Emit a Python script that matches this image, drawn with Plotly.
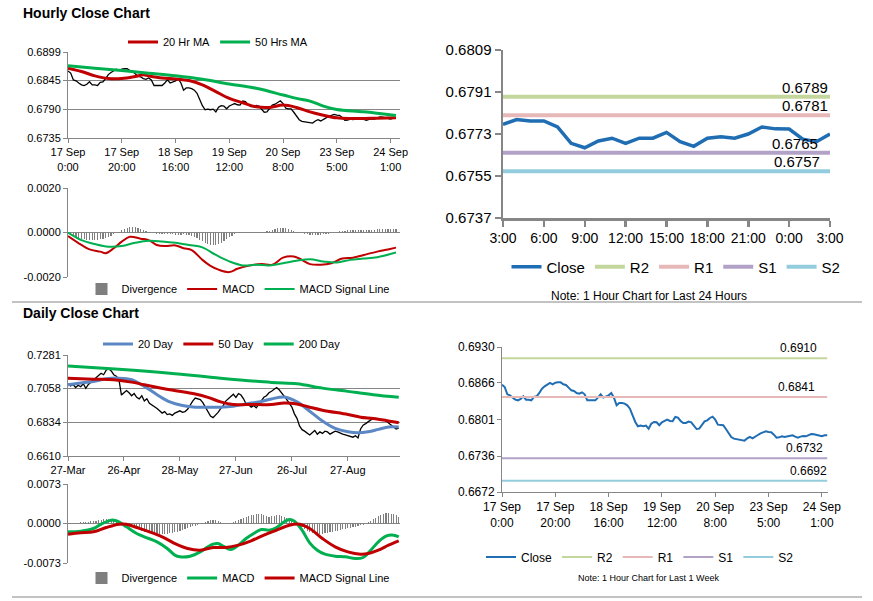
import plotly.graph_objects as go

W, H = 873, 601
FONT = "Liberation Sans, Arial, sans-serif"
GREY = "#868686"

# ---- hourly data: 17 Sep 0:00 -> 24 Sep 2:00 (one point per trading hour)
hourly_close = [
    0.68630, 0.68588, 0.68458, 0.68440, 0.68399, 0.68363, 0.68351, 0.68375, 0.68422, 0.68363,
    0.68363, 0.68351, 0.68411, 0.68422, 0.68482, 0.68559, 0.68600, 0.68624, 0.68660, 0.68636,
    0.68665, 0.68671, 0.68671, 0.68636, 0.68624, 0.68577, 0.68529, 0.68517, 0.68482, 0.68470,
    0.68494, 0.68458, 0.68351, 0.68351, 0.68351, 0.68351, 0.68399, 0.68458, 0.68399, 0.68422,
    0.68440, 0.68482, 0.68399, 0.68262, 0.68304, 0.68304, 0.68292, 0.68262, 0.68203, 0.68084,
    0.67966, 0.67889, 0.67901, 0.67889, 0.67901, 0.67847, 0.67936, 0.67966, 0.67960, 0.67907,
    0.67960, 0.67984, 0.68007, 0.67984, 0.67978, 0.68055, 0.68043, 0.67984, 0.67948, 0.67948,
    0.67972, 0.67960, 0.67889, 0.67841, 0.67847, 0.67907, 0.67978, 0.67995, 0.68037, 0.68061,
    0.68007, 0.67918, 0.67907, 0.67907, 0.67841, 0.67758, 0.67699, 0.67669, 0.67657, 0.67651,
    0.67640, 0.67634, 0.67675, 0.67699, 0.67675, 0.67711, 0.67734, 0.67764, 0.67788, 0.67800,
    0.67788, 0.67782, 0.67740, 0.67687, 0.67693, 0.67711, 0.67699, 0.67705, 0.67723, 0.67729,
    0.67705, 0.67687, 0.67705, 0.67717, 0.67711, 0.67729, 0.67752, 0.67746, 0.67734, 0.67723,
    0.67711, 0.67729, 0.67729,
]
hourly_ticks = [0, 20, 40, 60, 80, 100, 120]
hourly_ticktext = ["17 Sep<br>0:00", "17 Sep<br>20:00", "18 Sep<br>16:00", "19 Sep<br>12:00",
                   "20 Sep<br>8:00", "23 Sep<br>5:00", "24 Sep<br>1:00"]

ma20h_x = [0, 5, 10, 15, 20, 25, 28, 30, 35, 40, 45, 50, 55, 60, 65, 70, 75, 80, 85, 90, 95, 100, 105, 110, 115, 122]
ma20h = [0.68682, 0.68618, 0.68535, 0.68484, 0.68484, 0.68522, 0.68554, 0.68535, 0.68496, 0.68477,
         0.68445, 0.68362, 0.68234, 0.68105, 0.68022, 0.67945, 0.67932, 0.67977, 0.67932, 0.67849,
         0.67785, 0.67734, 0.67721, 0.67721, 0.67727, 0.67734]
ma50h_x = [0, 10, 20, 30, 40, 50, 60, 70, 80, 85, 90, 95, 100, 110, 122]
ma50h = [0.68727, 0.68682, 0.68637, 0.68586, 0.68535, 0.68470, 0.68380, 0.68298, 0.68170, 0.68105,
         0.68054, 0.67958, 0.67894, 0.67849, 0.67778]

macd_h_x = [0, 5, 8, 12, 14, 17, 20, 23, 27, 30, 33, 36, 40, 43, 46, 50, 53, 56, 60, 63, 67, 72, 76,
            80, 84, 86, 90, 94, 98, 102, 106, 110, 115, 119, 122]
macd_h = [-0.00016, -0.00056, -0.00076, -0.00086, -0.00093, -0.00071, -0.00041, -0.00019, -0.00028,
          -0.00034, -0.00056, -0.00061, -0.00058, -0.00071, -0.00079, -0.00123, -0.00150, -0.00167,
          -0.00178, -0.00163, -0.00150, -0.00142, -0.00145, -0.00113, -0.00108, -0.00117, -0.00142,
          -0.00145, -0.00138, -0.00117, -0.00113, -0.00101, -0.00086, -0.00076, -0.00068]
sig_h_x = [0, 5, 10, 15, 20, 25, 30, 35, 40, 45, 50, 55, 60, 65, 70, 75, 80, 85, 90, 95, 100, 105, 110, 115, 122]
sig_h = [0.0, -0.00034, -0.00052, -0.00064, -0.00061, -0.00046, -0.00037, -0.00040, -0.00046, -0.00056,
         -0.00067, -0.00101, -0.00130, -0.00148, -0.00145, -0.00148, -0.00138, -0.00127, -0.00120,
         -0.00130, -0.00135, -0.00123, -0.00117, -0.00111, -0.00090]
div_h = [
    0.0, -0.00008, -0.00014, -0.0002, -0.00024, -0.00027, -0.0003, -0.00032, -0.00033, -0.00034,
    -0.00034, -0.00033, -0.00031, -0.00028, -0.00025, -0.0002, -0.00014, -0.00008, -0.00002,
    0.00004, 0.0001, 0.00015, 0.0002, 0.00024, 0.00026, 0.00025, 0.00022, 0.00017, 0.00012, 0.00007, 0.00003,
    -0.00002, -0.00004, -0.00006, -0.00007, -0.00007, -0.00006, -0.00005, -0.00006, -0.00008, -0.00009,
    -0.0001, -0.00009, -0.00008, -0.0001, -0.00013, -0.00016, -0.0002,
    -0.00026, -0.00033, -0.0004, -0.00046, -0.00051, -0.00055, -0.00057, -0.00056, -0.00052, -0.00046,
    -0.00038, -0.0003, -0.00022, -0.00015, -0.00008,
    -0.00003, 0.00001, 0.00002, 0.00001, 0.00001, 0.00002, 0.00002, 0.00001, 0.00001, 0.00002, 0.00004,
    0.00006, 0.00009,
    0.00013, 0.00016, 0.00019, 0.0002, 0.0002, 0.00019, 0.00016, 0.00012, 0.00008, 0.00004, 0.00001,
    -0.00003, -0.00006, -0.00008, -0.0001, -0.00011, -0.00011, -0.0001, -0.00009, -0.00008, -0.00007,
    -0.00005, -0.00003, -0.00001,
    0.00002, 0.00005, 0.00007, 0.00009, 0.0001, 0.0001, 0.00011, 0.0001, 0.0001, 0.00011, 0.00012,
    0.00012, 0.00011, 0.00012, 0.00013, 0.00014, 0.00015, 0.00016, 0.00016, 0.00017, 0.00017, 0.00016, 0.00016,
]

# ---- last 24 hours
last24_close = [0.67771, 0.67792, 0.67786, 0.67786, 0.67760, 0.67690, 0.67671, 0.67700, 0.67712,
                0.67690, 0.67712, 0.67712, 0.67737, 0.67697, 0.67677, 0.67712, 0.67718, 0.67712,
                0.67730, 0.67760, 0.67752, 0.67751, 0.67708, 0.67697, 0.67730]
last24_ticks = [0, 3, 6, 9, 12, 15, 18, 21, 24]
last24_ticktext = ["3:00", "6:00", "9:00", "12:00", "15:00", "18:00", "21:00", "0:00", "3:00"]

level_names = ["R2", "R1", "S1", "S2"]
levels_24h = [0.6789, 0.6781, 0.6765, 0.6757]
levels_week = [0.6910, 0.6841, 0.6732, 0.6692]

# ---- daily data: 27-Mar -> 24-Sep
daily_close = [
    0.7090, 0.7075, 0.7085, 0.7065, 0.7080, 0.7070, 0.7090, 0.7060, 0.7085, 0.7100,
    0.7110, 0.7130, 0.7145, 0.7160, 0.7150, 0.7180, 0.7190, 0.7175, 0.7150, 0.7140,
    0.7120, 0.7015, 0.7030, 0.7045, 0.7030, 0.7010, 0.7025, 0.7000, 0.6990, 0.7010,
    0.6975, 0.6990, 0.6960, 0.6950, 0.6935, 0.6925, 0.6910, 0.6895, 0.6905, 0.6885,
    0.6890, 0.6880, 0.6895, 0.6905, 0.6910, 0.6900, 0.6905, 0.6920, 0.6950, 0.6975,
    0.6995, 0.6990, 0.6985, 0.6965, 0.6935, 0.6895, 0.6875, 0.6865, 0.6880, 0.6900,
    0.6925, 0.6945, 0.6975, 0.6990, 0.7005, 0.7020, 0.7000, 0.7025, 0.7015, 0.6990,
    0.6955, 0.6950, 0.6935, 0.6945, 0.6930, 0.6955, 0.6980, 0.7000, 0.7010, 0.7030,
    0.7040, 0.7055, 0.7065, 0.7050, 0.7030, 0.7010, 0.6985, 0.6960, 0.6935, 0.6890,
    0.6860, 0.6810, 0.6785, 0.6775, 0.6760, 0.6750, 0.6765, 0.6780, 0.6755, 0.6770,
    0.6760, 0.6775, 0.6770, 0.6755, 0.6765, 0.6775, 0.6770, 0.6760, 0.6755, 0.6750,
    0.6745, 0.6740, 0.6735, 0.6745, 0.6730, 0.6790, 0.6815, 0.6825, 0.6840, 0.6850,
    0.6855, 0.6860, 0.6855, 0.6850, 0.6850, 0.6845, 0.6830, 0.6815, 0.6800, 0.6790,
    0.6795,
]
daily_ticks = [0, 22, 44, 66, 88, 110]
daily_ticktext = ["27-Mar", "26-Apr", "28-May", "27-Jun", "26-Jul", "27-Aug"]

ma20d_x = [0, 5, 10, 15, 20, 25, 30, 35, 40, 45, 50, 55, 60, 65, 70, 75, 80, 85, 90, 95, 100, 105, 110, 114, 118, 122, 126, 130]
ma20d = [0.70834, 0.70944, 0.71054, 0.71229, 0.71273, 0.71163, 0.70724, 0.70175, 0.69692, 0.69450,
         0.69340, 0.69340, 0.69340, 0.69406, 0.69560, 0.69692, 0.69889, 0.70021, 0.69692, 0.69077,
         0.68418, 0.67935, 0.67715, 0.67650, 0.67715, 0.67869, 0.68023, 0.68023]
ma50d_x = [0, 10, 18, 25, 30, 40, 50, 55, 60, 65, 70, 75, 80, 85, 90, 95, 100, 110, 115, 120, 125, 130]
ma50d = [0.71273, 0.71207, 0.71163, 0.71009, 0.70834, 0.70504, 0.70219, 0.69999, 0.69692, 0.69516,
         0.69516, 0.69516, 0.69516, 0.69626, 0.69560, 0.69340, 0.69143, 0.68857, 0.68681, 0.68593,
         0.68462, 0.68308]
ma200d_x = [0, 20, 40, 60, 80, 90, 100, 110, 120, 130]
ma200d = [0.72085, 0.71866, 0.71602, 0.71273, 0.70987, 0.70900, 0.70610, 0.70394, 0.70175, 0.69999]

macd_d_x = [0, 5, 10, 13, 16, 18, 20, 23, 27, 30, 35, 39, 42, 44, 48, 52, 55, 57, 59, 61, 64, 67, 70,
            73, 76, 79, 82, 85, 87, 89, 92, 95, 98, 101, 105, 109, 113, 116, 119, 122, 125, 128, 130]
macd_d = [-0.00154, -0.00142, -0.00092, -0.00012, 0.00049, 0.00062, 0.00031, -0.00062, -0.00185,
          -0.00246, -0.00339, -0.00462, -0.00585, -0.00616, -0.00604, -0.00524, -0.00431, -0.00382,
          -0.00370, -0.00419, -0.00480, -0.00400, -0.00277, -0.00185, -0.00111, -0.00123, -0.00074,
          0.00031, 0.00074, 0.00043, -0.00123, -0.00357, -0.00493, -0.00567, -0.00604, -0.00616,
          -0.00647, -0.00628, -0.00493, -0.00339, -0.00234, -0.00216, -0.00246]
sig_d_x = [0, 5, 10, 15, 20, 23, 27, 32, 37, 42, 47, 52, 57, 62, 67, 72, 77, 82, 87, 91, 95, 100,
           105, 110, 115, 118, 122, 126, 130]
sig_d = [-0.00197, -0.00172, -0.00154, -0.00074, -0.00012, -0.00012, -0.00074, -0.00154, -0.00246,
         -0.00370, -0.00462, -0.00493, -0.00444, -0.00444, -0.00400, -0.00320, -0.00216, -0.00123,
         -0.00031, -0.00012, -0.00092, -0.00277, -0.00431, -0.00524, -0.00567, -0.00554, -0.00493,
         -0.00400, -0.00320]
div_d = [
    0.00005, 0.00008, 0.0001, 0.00012, 0.00015, 0.0002, 0.00025, 0.0003,
    0.00035, 0.0004, 0.00045, 0.0005, 0.0006, 0.0007, 0.0008, 0.00085, 0.0009, 0.0009, 0.00085,
    0.0007, 0.0005, 0.0003, 0.0001,
    -0.0002, -0.0004, -0.0006, -0.0008, -0.001, -0.0012, -0.0013, -0.0015, -0.0016, -0.0017, -0.0018,
    -0.0019, -0.0019, -0.002, -0.002, -0.0019, -0.0019, -0.0018, -0.0017, -0.0016, -0.0015, -0.0013,
    -0.0012, -0.001, -0.0009, -0.0007, -0.0005, -0.0004, -0.0002, -0.0001, 0.0001, 0.0002, 0.0004,
    0.0006, 0.0007, 0.0006, 0.0004, 0.0002, 0.0001, 0.00005, 0.00005, 0.0001, 0.0002,
    0.0004, 0.0006, 0.0008, 0.001, 0.0012, 0.0014, 0.0015, 0.0016, 0.0017, 0.0018, 0.0017, 0.0016,
    0.0014, 0.0012, 0.0013, 0.0014, 0.0015, 0.0015, 0.0014, 0.0012, 0.001, 0.0008, 0.0005, 0.0002, -0.0001,
    -0.0004, -0.0007, -0.001, -0.0013, -0.0015, -0.0017, -0.0018, -0.0019, -0.0019, -0.0019, -0.0018,
    -0.0017, -0.0016, -0.0015, -0.0014, -0.0013, -0.0012, -0.0011, -0.001, -0.0009, -0.0008, -0.0007,
    -0.0006, -0.0005, -0.0003, -0.0002, -0.0001,
    0.0002, 0.0005, 0.0008, 0.0011, 0.0014, 0.0016, 0.0018, 0.0019, 0.0019, 0.0018, 0.0017, 0.0015, 0.0012,
]


def xd(left, right):
    return [left / W, right / W]


def yd(top, bottom):
    return [1 - bottom / H, 1 - top / H]


def yfmt(vals):
    return ["%.4f" % v if v >= 0 else "-%.4f" % abs(v) for v in vals]


hx = list(range(len(hourly_close)))
dx = list(range(len(daily_close)))
lx = list(range(len(last24_close)))

RED, GREEN, BLUE = "#c00000", "#00b050", "#5b87c5"
CLOSE_BLUE = "#1f6db3"
level_colors = ["#c3d69b", "#e6b9b8", "#b3a2c7", "#93cddd"]

fig = go.Figure()

# panel 1: hourly close + moving averages
fig.add_trace(go.Scatter(x=hx, y=hourly_close, mode="lines", line=dict(color="black", width=1.3),
                         showlegend=False, xaxis="x", yaxis="y"))
fig.add_trace(go.Scatter(x=ma20h_x, y=ma20h, mode="lines", name="20 Hr MA", line=dict(color=RED, width=3),
                         line_shape="spline", xaxis="x", yaxis="y", legend="legend"))
fig.add_trace(go.Scatter(x=ma50h_x, y=ma50h, mode="lines", name="50 Hrs MA", line=dict(color=GREEN, width=3),
                         line_shape="spline", xaxis="x", yaxis="y", legend="legend"))

# panel 2: hourly MACD
fig.add_trace(go.Bar(x=hx, y=div_h, name="Divergence", marker=dict(color="#7f7f7f", line_width=0), width=0.45,
                     xaxis="x2", yaxis="y2", legend="legend2"))
fig.add_trace(go.Scatter(x=macd_h_x, y=macd_h, mode="lines", name="MACD", line=dict(color=RED, width=2),
                         line_shape="spline", xaxis="x2", yaxis="y2", legend="legend2"))
fig.add_trace(go.Scatter(x=sig_h_x, y=sig_h, mode="lines", name="MACD Signal Line", line=dict(color=GREEN, width=2),
                         line_shape="spline", xaxis="x2", yaxis="y2", legend="legend2"))

# panel 3: last 24 hours with pivot levels
fig.add_trace(go.Scatter(x=lx, y=last24_close, mode="lines", name="Close", line=dict(color=CLOSE_BLUE, width=3.5),
                         xaxis="x3", yaxis="y3", legend="legend3"))
for name, lev, col in zip(level_names, levels_24h, level_colors):
    fig.add_trace(go.Scatter(x=[lx[0], lx[-1]], y=[lev, lev], mode="lines", name=name,
                             line=dict(color=col, width=4), xaxis="x3", yaxis="y3", legend="legend3"))

# panel 4: daily close + moving averages
fig.add_trace(go.Scatter(x=dx, y=daily_close, mode="lines", line=dict(color="black", width=1.3),
                         showlegend=False, xaxis="x4", yaxis="y4"))
fig.add_trace(go.Scatter(x=ma20d_x, y=ma20d, mode="lines", name="20 Day", line=dict(color=BLUE, width=3),
                         line_shape="spline", xaxis="x4", yaxis="y4", legend="legend4"))
fig.add_trace(go.Scatter(x=ma50d_x, y=ma50d, mode="lines", name="50 Day", line=dict(color=RED, width=3),
                         line_shape="spline", xaxis="x4", yaxis="y4", legend="legend4"))
fig.add_trace(go.Scatter(x=ma200d_x, y=ma200d, mode="lines", name="200 Day", line=dict(color=GREEN, width=3),
                         line_shape="spline", xaxis="x4", yaxis="y4", legend="legend4"))

# panel 5: daily MACD
fig.add_trace(go.Bar(x=dx, y=div_d, name="Divergence", marker=dict(color="#7f7f7f", line_width=0), width=0.45,
                     xaxis="x5", yaxis="y5", legend="legend5"))
fig.add_trace(go.Scatter(x=macd_d_x, y=macd_d, mode="lines", name="MACD", line=dict(color=GREEN, width=3),
                         line_shape="spline", xaxis="x5", yaxis="y5", legend="legend5"))
fig.add_trace(go.Scatter(x=sig_d_x, y=sig_d, mode="lines", name="MACD Signal Line", line=dict(color=RED, width=3),
                         line_shape="spline", xaxis="x5", yaxis="y5", legend="legend5"))

# panel 6: last week hourly with pivot levels
fig.add_trace(go.Scatter(x=hx, y=hourly_close, mode="lines", name="Close", line=dict(color=CLOSE_BLUE, width=2),
                         xaxis="x6", yaxis="y6", legend="legend6"))
for name, lev, col in zip(level_names, levels_week, level_colors):
    fig.add_trace(go.Scatter(x=[hx[0], hx[-1]], y=[lev, lev], mode="lines", name=name,
                             line=dict(color=col, width=2), xaxis="x6", yaxis="y6", legend="legend6"))

axis_base = dict(showline=True, linecolor=GREY, linewidth=1, ticks="outside", tickcolor=GREY, ticklen=4,
                 zeroline=False, fixedrange=True, automargin=False, tickfont=dict(size=11, color="black"))


def xaxis(dom, rng, tickvals=None, ticktext=None, size=11, **kw):
    d = dict(axis_base, domain=xd(*dom), range=rng, showgrid=False, tickangle=0, anchor=kw.pop("anchor"))
    if tickvals is None:
        d.update(showticklabels=False, ticks="", showline=False)
    else:
        d.update(tickmode="array", tickvals=tickvals, ticktext=ticktext, tickfont=dict(size=size, color="black"))
    d.update(kw)
    return d


def yaxis(dom, rng, tickvals, grid, size=11, **kw):
    d = dict(axis_base, domain=yd(*dom), range=rng, tickmode="array", tickvals=tickvals,
             ticktext=yfmt(tickvals), showgrid=grid, gridcolor=GREY, gridwidth=1,
             tickfont=dict(size=size, color="black"), anchor=kw.pop("anchor"))
    d.update(kw)
    return d


h_ticks_p1 = [0.6735, 0.6790, 0.6845, 0.6899]
h_ticks_p2 = [-0.0020, 0.0, 0.0020]
ticks_p3 = [0.6737, 0.6755, 0.6773, 0.6791, 0.6809]
d_ticks_p4 = [0.6610, 0.6834, 0.7058, 0.7281]
d_ticks_p5 = [-0.0073, 0.0, 0.0073]
ticks_p6 = [0.6672, 0.6736, 0.6801, 0.6866, 0.6930]

layout = dict(
    width=W, height=H, margin=dict(l=0, r=0, t=0, b=0, autoexpand=False),
    paper_bgcolor="white", plot_bgcolor="white",
    font=dict(family=FONT, color="black", size=11),
    bargap=0, showlegend=True,
    xaxis=xaxis((68, 400), [0, 123.5], hourly_ticks, hourly_ticktext, anchor="y"),
    yaxis=yaxis((52, 138), [0.6735, 0.6899], h_ticks_p1, True, anchor="x"),
    xaxis2=xaxis((68, 400), [0, 123.5], anchor="y2"),
    yaxis2=yaxis((188, 277), [-0.0020, 0.0020], h_ticks_p2, True, anchor="x2"),
    xaxis3=xaxis((503, 830), [0, 24], last24_ticks, last24_ticktext, size=14, anchor="y3",
                 linewidth=2.5, ticklen=6, tickwidth=2.5),
    yaxis3=yaxis((50, 218), [0.6737, 0.6809], ticks_p3, False, size=15, anchor="x3",
                 linewidth=2.5, ticklen=6, tickwidth=2.5),
    xaxis4=xaxis((68, 400), [0, 130.5], daily_ticks, daily_ticktext, anchor="y4"),
    yaxis4=yaxis((355, 456), [0.6610, 0.7281], d_ticks_p4, True, anchor="x4"),
    xaxis5=xaxis((68, 400), [0, 130.5], anchor="y5"),
    yaxis5=yaxis((484, 563), [-0.0073, 0.0073], d_ticks_p5, True, anchor="x5"),
    xaxis6=xaxis((502, 828), [0, 122.3], hourly_ticks, hourly_ticktext, size=12, anchor="y6"),
    yaxis6=yaxis((347, 492), [0.6672, 0.6930], ticks_p6, False, size=12, anchor="x6"),
)

legend_base = dict(orientation="h", xanchor="center", yanchor="middle", bgcolor="rgba(0,0,0,0)",
                   itemwidth=30, tracegroupgap=0, itemclick=False)
legend_pos = {
    "legend": (218, 42, 11), "legend2": (238, 289, 11), "legend3": (676, 267, 15),
    "legend4": (222, 344, 11), "legend5": (238, 578, 11), "legend6": (640, 557, 12),
}
for key, (px, py, fs) in legend_pos.items():
    layout[key] = dict(legend_base, x=px / W, y=1 - py / H, font=dict(size=fs, family=FONT))

fig.update_layout(**layout)

# titles and notes
fig.add_annotation(x=21 / W, y=1 - 13 / H, xref="paper", yref="paper", xanchor="left", yanchor="middle",
                   text="<b>Hourly Close Chart</b>", showarrow=False, font=dict(size=14))
fig.add_annotation(x=21 / W, y=1 - 313 / H, xref="paper", yref="paper", xanchor="left", yanchor="middle",
                   text="<b>Daily Close Chart</b>", showarrow=False, font=dict(size=14))
fig.add_annotation(x=649 / W, y=1 - 296 / H, xref="paper", yref="paper", xanchor="center", yanchor="middle",
                   text="Note: 1 Hour Chart for Last 24 Hours", showarrow=False, font=dict(size=12))
fig.add_annotation(x=648 / W, y=1 - 578 / H, xref="paper", yref="paper", xanchor="center", yanchor="middle",
                   text="Note: 1 Hour Chart for Last 1 Week", showarrow=False, font=dict(size=9))

# level value labels
for lev, xs in zip(levels_24h, [0, 0, -10, -8]):
    fig.add_annotation(x=lx[-1], y=lev, xref="x3", yref="y3", xanchor="right", yanchor="bottom", xshift=xs,
                       yshift=-1, text="%.4f" % lev, showarrow=False, font=dict(size=15))
for lev, xs in zip(levels_week, [-8, -10, -2, 2]):
    fig.add_annotation(x=hx[-1], y=lev, xref="x6", yref="y6", xanchor="right", yanchor="bottom", xshift=xs,
                       yshift=1, text="%.4f" % lev, showarrow=False, font=dict(size=12))

# separators between the two chart blocks
for yy in (302, 597):
    fig.add_shape(type="line", xref="paper", yref="paper", x0=12 / W, x1=862 / W, y0=1 - yy / H, y1=1 - yy / H,
                  line=dict(color=GREY, width=1))

fig.write_html("out.html", config={"displayModeBar": False, "staticPlot": True})

# drop the browser's default page margin so the figure sits at the top-left corner
with open("out.html", encoding="utf-8") as f:
    page = f.read()
page = page.replace("<head>", "<head><style>html,body{margin:0;padding:0;overflow:hidden}</style>", 1)
with open("out.html", "w", encoding="utf-8") as f:
    f.write(page)
